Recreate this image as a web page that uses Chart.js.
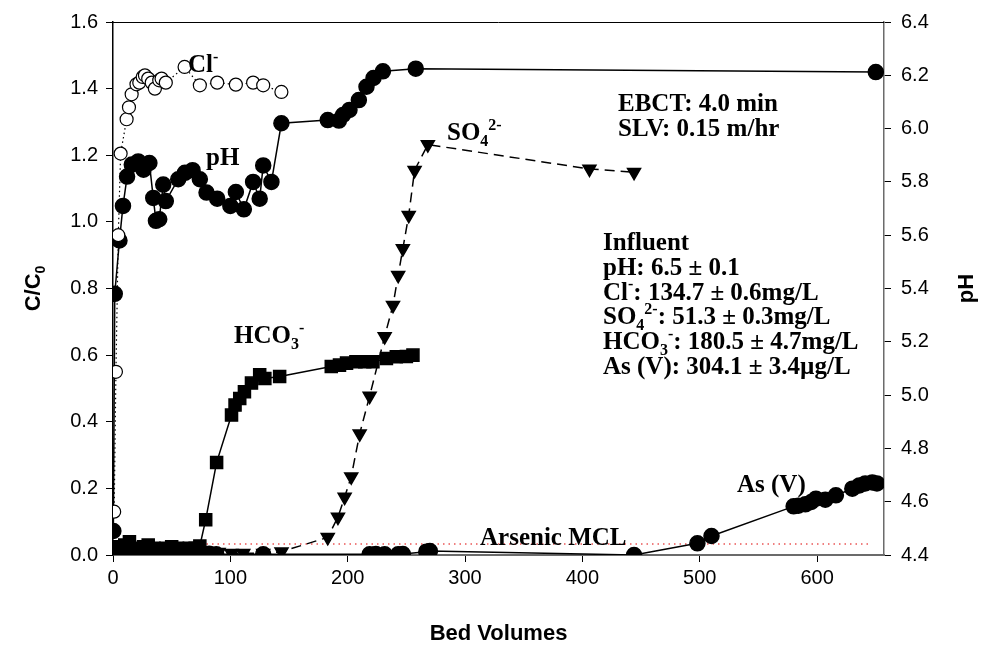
<!DOCTYPE html>
<html>
<head>
<meta charset="utf-8">
<script src="https://cdn.jsdelivr.net/npm/chart.js@4.4.1/dist/chart.umd.min.js"></script>
<style>
  html, body { margin: 0; background: #fff; }
  #wrap { width: 984px; height: 648px; }
</style>
</head>
<body>
<div id="wrap"><canvas id="chart" width="984" height="648"></canvas></div>
<script>
// ── Data (bed volumes vs C/C0 or pH) ─────────────────────────────────────

const xTicks = [0, 100, 200, 300, 400, 500, 600];
const yTicks = [0, 0.2, 0.4, 0.6, 0.8, 1.0, 1.2, 1.4, 1.6];
const phTicks = [4.4, 4.6, 4.8, 5.0, 5.2, 5.4, 5.6, 5.8, 6.0, 6.2, 6.4];

const clBV  = [1, 2.5, 4.5, 6.5, 11.6, 13.6, 15.9, 20, 22.4, 25.3, 27.2, 30, 33, 35.7, 39.4, 41.4, 45, 61, 74, 88.8, 104.7, 119.4, 128, 143.5];
const clVal = [0.13, 0.55, 0.96, 1.205, 1.308, 1.344, 1.383, 1.413, 1.418, 1.435, 1.44, 1.43, 1.418, 1.40, 1.425, 1.43, 1.418, 1.465, 1.41, 1.418, 1.412, 1.418, 1.41, 1.39];

const phBV  = [0.3, 1.5, 5.5, 8.5, 12, 16, 21.5, 26, 31, 34.3, 36.6, 39.4, 42.8, 45, 55.6, 61.3, 67.8, 74, 79.7, 88.8, 100, 104.7, 111.5, 119.4, 125, 128, 135, 143.5, 183, 192.5, 196, 201.5, 209.5, 216, 222, 230, 258, 650];
const phVal = [4.49, 5.38, 5.58, 5.71, 5.82, 5.865, 5.877, 5.846, 5.871, 5.74, 5.654, 5.66, 5.79, 5.728, 5.81, 5.834, 5.844, 5.81, 5.76, 5.737, 5.71, 5.762, 5.697, 5.80, 5.737, 5.862, 5.80, 6.02, 6.032, 6.03, 6.051, 6.07, 6.107, 6.157, 6.19, 6.215, 6.225, 6.212];

const hcoBV  = [2, 6, 10, 14, 18, 22, 26, 30, 35, 40, 45, 50, 55, 60, 65, 70, 74, 79, 88.3, 101, 104, 108, 112, 118, 125, 129.4, 142, 186, 193, 199, 207, 214.5, 221.5, 233, 241.4, 250, 255.6];
const hcoVal = [0.025, 0.02, 0.03, 0.04, 0.02, 0.015, 0.025, 0.03, 0.02, 0.015, 0.02, 0.025, 0.02, 0.015, 0.02, 0.02, 0.027, 0.106, 0.278, 0.42, 0.45, 0.47, 0.49, 0.516, 0.541, 0.53, 0.536, 0.566, 0.57, 0.576, 0.58, 0.58, 0.58, 0.59, 0.595, 0.596, 0.60];

const so4BV  = [3, 8, 13, 18, 24, 30, 36, 42, 50, 58, 66, 74, 82, 90, 101, 111, 128, 143.6, 183, 191.7, 197.4, 203, 210.2, 218.7, 231.5, 238.6, 243, 247, 252, 257, 268.3, 406, 444];
const so4Val = [0.01, 0.012, 0.008, 0.01, 0.012, 0.01, 0.008, 0.01, 0.012, 0.01, 0.008, 0.01, 0.01, 0.008, 0.005, 0.005, 0.005, 0.01, 0.053, 0.114, 0.174, 0.235, 0.364, 0.477, 0.656, 0.75, 0.84, 0.92, 1.02, 1.155, 1.232, 1.159, 1.149];

const asBV  = [0, 3, 6, 9, 12, 15, 18, 21, 24, 27, 30, 34, 38, 42, 46, 50, 55, 60, 65, 70, 76, 82, 88, 128, 218.7, 224, 231.5, 243, 247, 267, 270, 444, 498, 510, 580, 584, 590, 595, 599, 607, 616, 630, 636, 641, 647, 651];
const asVal = [0.01, 0.005, 0.01, 0.008, 0.005, 0.01, 0.006, 0.008, 0.005, 0.01, 0.006, 0.008, 0.005, 0.01, 0.006, 0.005, 0.008, 0.005, 0.006, 0.005, 0.004, 0.004, 0.002, 0.002, 0.002, 0.003, 0.002, 0.002, 0.003, 0.01, 0.012, 0.0, 0.035, 0.057, 0.146, 0.148, 0.152, 0.159, 0.169, 0.166, 0.179, 0.199, 0.209, 0.215, 0.218, 0.215];

const mclBV  = [0, 646];
const mclVal = [0.033, 0.033];

const pts = (xs, ys) => xs.map((x, i) => ({ x: x, y: ys[i] }));

// ── Annotation text ─────────────────────────────────────────────────────

const SERIF = '"Liberation Serif", "Times New Roman", serif';
const SANS = '"Liberation Sans", Arial, sans-serif';

function drawRich(ctx, x, y, parts, size) {
  let cx = x;
  for (const [t, k] of parts) {
    const fs = k ? Math.round(size * 0.62) : size;
    ctx.font = `bold ${fs}px ${SERIF}`;
    const dy = k === "sub" ? size * 0.22 : k === "sup" ? -size * 0.42 : 0;
    ctx.fillText(t, cx, y + dy);
    cx += ctx.measureText(t).width;
  }
}

const labels = {
  id: "labels",
  afterDraw(chart) {
    const ctx = chart.ctx;
    const a = chart.chartArea;
    ctx.save();
    ctx.fillStyle = "#000";
    ctx.textBaseline = "alphabetic";
    ctx.textAlign = "left";

    // frame top edge
    ctx.strokeStyle = "#000";
    ctx.lineWidth = 1;
    ctx.beginPath();
    ctx.moveTo(a.left, a.top + 0.5);
    ctx.lineTo(a.right, a.top + 0.5);
    ctx.stroke();

    drawRich(ctx, 188, 72, [["Cl", ""], ["-", "sup"]], 25);
    drawRich(ctx, 206, 165, [["pH", ""]], 25);
    drawRich(ctx, 234, 343, [["HCO", ""], ["3", "sub"], ["-", "sup"]], 25);
    drawRich(ctx, 447, 140, [["SO", ""], ["4", "sub"], ["2-", "sup"]], 25);
    drawRich(ctx, 618, 111, [["EBCT: 4.0 min", ""]], 25);
    drawRich(ctx, 618, 136, [["SLV: 0.15 m/hr", ""]], 25);

    const base = 250, step = 24.8;
    drawRich(ctx, 603, base, [["Influent", ""]], 25);
    drawRich(ctx, 603, base + step, [["pH: 6.5 \u00b1 0.1", ""]], 25);
    drawRich(ctx, 603, base + step * 2, [["Cl", ""], ["-", "sup"], [": 134.7 \u00b1 0.6mg/L", ""]], 25);
    drawRich(ctx, 603, base + step * 3, [["SO", ""], ["4", "sub"], ["2-", "sup"], [": 51.3 \u00b1 0.3mg/L", ""]], 25);
    drawRich(ctx, 603, base + step * 4, [["HCO", ""], ["3", "sub"], ["-", "sup"], [": 180.5 \u00b1 4.7mg/L", ""]], 25);
    drawRich(ctx, 603, base + step * 5, [["As (V): 304.1 \u00b1 3.4\u00b5g/L", ""]], 25);

    drawRich(ctx, 480, 545, [["Arsenic MCL", ""]], 25);
    drawRich(ctx, 737, 492, [["As (V)", ""]], 25);

    // axis titles
    ctx.textAlign = "center";
    ctx.font = `bold 22px ${SANS}`;
    ctx.fillText("Bed Volumes", (a.left + a.right) / 2, 640);

    ctx.save();
    ctx.translate(40, (a.top + a.bottom) / 2);
    ctx.rotate(-Math.PI / 2);
    ctx.textAlign = "left";
    ctx.font = `bold 22px ${SANS}`;
    const w1 = ctx.measureText("C/C").width;
    ctx.font = `bold 14px ${SANS}`;
    const w2 = ctx.measureText("0").width;
    ctx.font = `bold 22px ${SANS}`;
    ctx.fillText("C/C", -(w1 + w2) / 2, 0);
    ctx.font = `bold 14px ${SANS}`;
    ctx.fillText("0", -(w1 + w2) / 2 + w1, 5);
    ctx.restore();

    ctx.save();
    ctx.translate(973, (a.top + a.bottom) / 2);
    ctx.rotate(-Math.PI / 2);
    ctx.font = `bold 22px ${SANS}`;
    ctx.fillText("pH", 0, 0);
    ctx.restore();

    ctx.restore();
  }
};

// ── Chart ────────────────────────────────────────────────────────────────

const tickFont = { family: SANS, size: 20 };

new Chart(document.getElementById("chart"), {
  type: "scatter",
  data: {
    datasets: [
      {
        label: "Cl",
        data: pts(clBV, clVal),
        yAxisID: "y",
        showLine: true,
        borderColor: "#000",
        borderWidth: 1.2,
        borderDash: [1.5, 3],
        pointStyle: "circle",
        pointRadius: 6.5,
        pointBackgroundColor: "#fff",
        pointBorderColor: "#000",
        pointBorderWidth: 1.2,
      },
      {
        label: "pH",
        data: pts(phBV, phVal),
        yAxisID: "y1",
        showLine: true,
        borderColor: "#000",
        borderWidth: 1.5,
        pointStyle: "circle",
        pointRadius: 7.5,
        pointBackgroundColor: "#000",
        pointBorderColor: "#000",
      },
      {
        label: "HCO3",
        data: pts(hcoBV, hcoVal),
        yAxisID: "y",
        showLine: true,
        borderColor: "#000",
        borderWidth: 1.5,
        pointStyle: "rect",
        pointRadius: 8.5,
        pointBackgroundColor: "#000",
        pointBorderColor: "#000",
      },
      {
        label: "SO4",
        data: pts(so4BV, so4Val),
        yAxisID: "y",
        showLine: true,
        borderColor: "#000",
        borderWidth: 1.5,
        borderDash: [10, 6],
        pointStyle: "triangle",
        rotation: 180,
        pointRadius: 7.5,
        pointBackgroundColor: "#000",
        pointBorderColor: "#000",
      },
      {
        label: "As",
        data: pts(asBV, asVal),
        yAxisID: "y",
        showLine: true,
        borderColor: "#000",
        borderWidth: 1.5,
        pointStyle: "circle",
        pointRadius: 7.5,
        pointBackgroundColor: "#000",
        pointBorderColor: "#000",
      },
      {
        label: "MCL",
        data: pts(mclBV, mclVal),
        yAxisID: "y",
        showLine: true,
        borderColor: "#e00000",
        borderWidth: 1.2,
        borderDash: [1.5, 4],
        pointRadius: 0,
      },
    ]
  },
  options: {
    responsive: false,
    devicePixelRatio: 1,
    animation: false,
    layout: { padding: { top: 18, left: 0, right: 0, bottom: 0 } },
    plugins: { legend: { display: false }, tooltip: { enabled: false } },
    scales: {
      x: {
        type: "linear",
        min: 0,
        max: 657,
        afterBuildTicks: s => { s.ticks = xTicks.map(v => ({ value: v })); },
        afterFit: s => { s.height = 93; },
        ticks: { color: "#000", font: tickFont, padding: 4, maxRotation: 0 },
        grid: { drawOnChartArea: false, drawTicks: true, tickLength: 7, tickColor: "#000" },
        border: { color: "#6b6b6b", width: 2 },
      },
      y: {
        position: "left",
        min: 0,
        max: 1.6,
        afterBuildTicks: s => { s.ticks = yTicks.map(v => ({ value: v })); },
        afterFit: s => { s.width = 113; },
        ticks: { color: "#000", font: tickFont, padding: 8, callback: v => v.toFixed(1) },
        grid: { drawOnChartArea: false, drawTicks: true, tickLength: 7, tickColor: "#000" },
        border: { color: "#000", width: 1.5 },
      },
      y1: {
        position: "right",
        min: 4.4,
        max: 6.4,
        afterBuildTicks: s => { s.ticks = phTicks.map(v => ({ value: v })); },
        afterFit: s => { s.width = 100; },
        ticks: { color: "#000", font: tickFont, padding: 10, callback: v => v.toFixed(1) },
        grid: { drawOnChartArea: false, drawTicks: true, tickLength: 7, tickColor: "#000" },
        border: { color: "#6b6b6b", width: 1.5 },
      },
    }
  },
  plugins: [labels]
});
</script>
</body>
</html>
